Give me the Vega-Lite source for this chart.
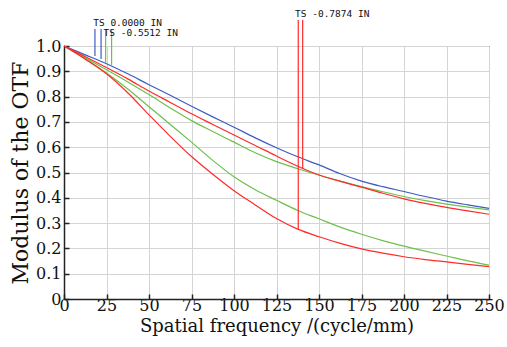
{
  "$schema": "https://vega.github.io/schema/vega-lite/v6.json",
  "width": 425,
  "height": 253,
  "autosize": {"type": "none"},
  "padding": {"left": 64, "top": 46, "right": 18, "bottom": 48},
  "background": "white",
  "config": {
    "view": {"stroke": "black", "strokeWidth": 1},
    "axis": {
      "labelFont": "DejaVu Serif",
      "titleFont": "DejaVu Serif",
      "labelFontSize": 16,
      "titleFontSize": 18,
      "titleFontWeight": "normal",
      "labelColor": "#111",
      "titleColor": "#111",
      "labelOverlap": false,
      "labelFlush": false,
      "gridColor": "#d4d4d4",
      "gridOpacity": 1,
      "gridWidth": 1,
      "domainColor": "#222",
      "domainWidth": 1.5,
      "tickColor": "#222",
      "tickSize": -5,
      "tickWidth": 1.5
    },
    "axisX": {"labelPadding": 3, "titlePadding": 4},
    "axisY": {"labelPadding": 8, "titlePadding": 3, "titleFontSize": 22}
  },
  "datasets": {
    "curves": [
      {"s": "blue", "f": 0, "m": 1.0}, {"s": "blue", "f": 12.5, "m": 0.965}, {"s": "blue", "f": 25, "m": 0.93}, {"s": "blue", "f": 37.5, "m": 0.89}, {"s": "blue", "f": 50, "m": 0.847}, {"s": "blue", "f": 62.5, "m": 0.805}, {"s": "blue", "f": 75, "m": 0.762}, {"s": "blue", "f": 87.5, "m": 0.72}, {"s": "blue", "f": 100, "m": 0.679}, {"s": "blue", "f": 112.5, "m": 0.637}, {"s": "blue", "f": 125, "m": 0.598}, {"s": "blue", "f": 137.5, "m": 0.562}, {"s": "blue", "f": 150, "m": 0.53}, {"s": "blue", "f": 162.5, "m": 0.495}, {"s": "blue", "f": 175, "m": 0.466}, {"s": "blue", "f": 187.5, "m": 0.444}, {"s": "blue", "f": 200, "m": 0.425}, {"s": "blue", "f": 212.5, "m": 0.405}, {"s": "blue", "f": 225, "m": 0.387}, {"s": "blue", "f": 237.5, "m": 0.372}, {"s": "blue", "f": 250, "m": 0.358},
      {"s": "green1", "f": 0, "m": 1.0}, {"s": "green1", "f": 12.5, "m": 0.953}, {"s": "green1", "f": 25, "m": 0.906}, {"s": "green1", "f": 37.5, "m": 0.858}, {"s": "green1", "f": 50, "m": 0.808}, {"s": "green1", "f": 62.5, "m": 0.755}, {"s": "green1", "f": 75, "m": 0.705}, {"s": "green1", "f": 87.5, "m": 0.662}, {"s": "green1", "f": 100, "m": 0.62}, {"s": "green1", "f": 112.5, "m": 0.578}, {"s": "green1", "f": 125, "m": 0.543}, {"s": "green1", "f": 137.5, "m": 0.515}, {"s": "green1", "f": 150, "m": 0.49}, {"s": "green1", "f": 162.5, "m": 0.466}, {"s": "green1", "f": 175, "m": 0.444}, {"s": "green1", "f": 187.5, "m": 0.424}, {"s": "green1", "f": 200, "m": 0.405}, {"s": "green1", "f": 212.5, "m": 0.389}, {"s": "green1", "f": 225, "m": 0.375}, {"s": "green1", "f": 237.5, "m": 0.363}, {"s": "green1", "f": 250, "m": 0.352},
      {"s": "green2", "f": 0, "m": 1.0}, {"s": "green2", "f": 12.5, "m": 0.95}, {"s": "green2", "f": 25, "m": 0.893}, {"s": "green2", "f": 37.5, "m": 0.83}, {"s": "green2", "f": 50, "m": 0.76}, {"s": "green2", "f": 62.5, "m": 0.69}, {"s": "green2", "f": 75, "m": 0.62}, {"s": "green2", "f": 87.5, "m": 0.548}, {"s": "green2", "f": 100, "m": 0.483}, {"s": "green2", "f": 112.5, "m": 0.432}, {"s": "green2", "f": 125, "m": 0.39}, {"s": "green2", "f": 137.5, "m": 0.35}, {"s": "green2", "f": 150, "m": 0.317}, {"s": "green2", "f": 162.5, "m": 0.284}, {"s": "green2", "f": 175, "m": 0.256}, {"s": "green2", "f": 187.5, "m": 0.231}, {"s": "green2", "f": 200, "m": 0.209}, {"s": "green2", "f": 212.5, "m": 0.189}, {"s": "green2", "f": 225, "m": 0.17}, {"s": "green2", "f": 237.5, "m": 0.151}, {"s": "green2", "f": 250, "m": 0.134},
      {"s": "red1", "f": 0, "m": 1.0}, {"s": "red1", "f": 12.5, "m": 0.958}, {"s": "red1", "f": 25, "m": 0.915}, {"s": "red1", "f": 37.5, "m": 0.87}, {"s": "red1", "f": 50, "m": 0.822}, {"s": "red1", "f": 62.5, "m": 0.777}, {"s": "red1", "f": 75, "m": 0.732}, {"s": "red1", "f": 87.5, "m": 0.69}, {"s": "red1", "f": 100, "m": 0.648}, {"s": "red1", "f": 112.5, "m": 0.607}, {"s": "red1", "f": 125, "m": 0.565}, {"s": "red1", "f": 137.5, "m": 0.525}, {"s": "red1", "f": 150, "m": 0.49}, {"s": "red1", "f": 162.5, "m": 0.465}, {"s": "red1", "f": 175, "m": 0.442}, {"s": "red1", "f": 187.5, "m": 0.418}, {"s": "red1", "f": 200, "m": 0.396}, {"s": "red1", "f": 212.5, "m": 0.378}, {"s": "red1", "f": 225, "m": 0.362}, {"s": "red1", "f": 237.5, "m": 0.348}, {"s": "red1", "f": 250, "m": 0.335},
      {"s": "red2", "f": 0, "m": 1.0}, {"s": "red2", "f": 12.5, "m": 0.948}, {"s": "red2", "f": 25, "m": 0.89}, {"s": "red2", "f": 37.5, "m": 0.815}, {"s": "red2", "f": 50, "m": 0.728}, {"s": "red2", "f": 62.5, "m": 0.643}, {"s": "red2", "f": 75, "m": 0.563}, {"s": "red2", "f": 87.5, "m": 0.493}, {"s": "red2", "f": 100, "m": 0.428}, {"s": "red2", "f": 112.5, "m": 0.372}, {"s": "red2", "f": 125, "m": 0.318}, {"s": "red2", "f": 137.5, "m": 0.276}, {"s": "red2", "f": 150, "m": 0.246}, {"s": "red2", "f": 162.5, "m": 0.22}, {"s": "red2", "f": 175, "m": 0.198}, {"s": "red2", "f": 187.5, "m": 0.181}, {"s": "red2", "f": 200, "m": 0.167}, {"s": "red2", "f": 212.5, "m": 0.156}, {"s": "red2", "f": 225, "m": 0.147}, {"s": "red2", "f": 237.5, "m": 0.137}, {"s": "red2", "f": 250, "m": 0.128}
    ],
    "markers": [
      {"s": "blue", "f": 18.2, "top": 1.067, "bottom": 0.96},
      {"s": "blue", "f": 21.8, "top": 1.067, "bottom": 0.949},
      {"s": "green1", "f": 24.5, "top": 1.067, "bottom": 0.934},
      {"s": "green1", "f": 28.0, "top": 1.067, "bottom": 0.925},
      {"s": "red1", "f": 137.8, "top": 1.103, "bottom": 0.275},
      {"s": "red1", "f": 140.4, "top": 1.103, "bottom": 0.514}
    ],
    "labels": [
      {"f": 17.2, "m": 1.09, "t": "TS 0.0000 IN"},
      {"f": 23.3, "m": 1.051, "t": "TS -0.5512 IN"},
      {"f": 135.9, "m": 1.127, "t": "TS -0.7874 IN"}
    ]
  },
  "layer": [
    {
      "data": {"name": "curves"},
      "mark": {"type": "line", "strokeWidth": 1.2, "interpolate": "monotone"},
      "encoding": {
        "x": {"field": "f", "type": "quantitative", "scale": {"domain": [0, 250], "nice": false},
              "axis": {"values": [0, 25, 50, 75, 100, 125, 150, 175, 200, 225, 250], "title": "Spatial frequency /(cycle/mm)"}},
        "y": {"field": "m", "type": "quantitative", "scale": {"domain": [0, 1], "nice": false},
              "axis": {"values": [0, 0.1, 0.2, 0.3, 0.4, 0.5, 0.6, 0.7, 0.8, 0.9, 1.0], "labelExpr": "datum.value == 0 ? '0' : format(datum.value, '.1f')", "title": "Modulus of the OTF"}},
        "color": {"field": "s", "type": "nominal", "legend": null,
                  "scale": {"domain": ["blue", "green1", "green2", "red1", "red2"], "range": ["#3c5cc4", "#6cc04c", "#6cc04c", "#ff2a2a", "#ff2a2a"]}},
        "detail": {"field": "s"}
      }
    },
    {
      "data": {"name": "markers"},
      "mark": {"type": "rule", "strokeWidth": 1.2, "clip": false},
      "encoding": {
        "x": {"field": "f", "type": "quantitative",
              "axis": {"values": [0, 25, 50, 75, 100, 125, 150, 175, 200, 225, 250], "title": "Spatial frequency /(cycle/mm)"}},
        "y": {"field": "top", "type": "quantitative",
              "axis": {"values": [0, 0.1, 0.2, 0.3, 0.4, 0.5, 0.6, 0.7, 0.8, 0.9, 1.0], "labelExpr": "datum.value == 0 ? '0' : format(datum.value, '.1f')", "title": "Modulus of the OTF"}},
        "y2": {"field": "bottom"},
        "color": {"field": "s", "type": "nominal", "legend": null}
      }
    },
    {
      "data": {"name": "labels"},
      "mark": {"type": "text", "align": "left", "baseline": "middle", "font": "DejaVu Sans Mono", "fontSize": 9.5, "color": "#111", "clip": false},
      "encoding": {
        "x": {"field": "f", "type": "quantitative",
              "axis": {"values": [0, 25, 50, 75, 100, 125, 150, 175, 200, 225, 250], "title": "Spatial frequency /(cycle/mm)"}},
        "y": {"field": "m", "type": "quantitative",
              "axis": {"values": [0, 0.1, 0.2, 0.3, 0.4, 0.5, 0.6, 0.7, 0.8, 0.9, 1.0], "labelExpr": "datum.value == 0 ? '0' : format(datum.value, '.1f')", "title": "Modulus of the OTF"}},
        "text": {"field": "t"}
      }
    }
  ]
}
